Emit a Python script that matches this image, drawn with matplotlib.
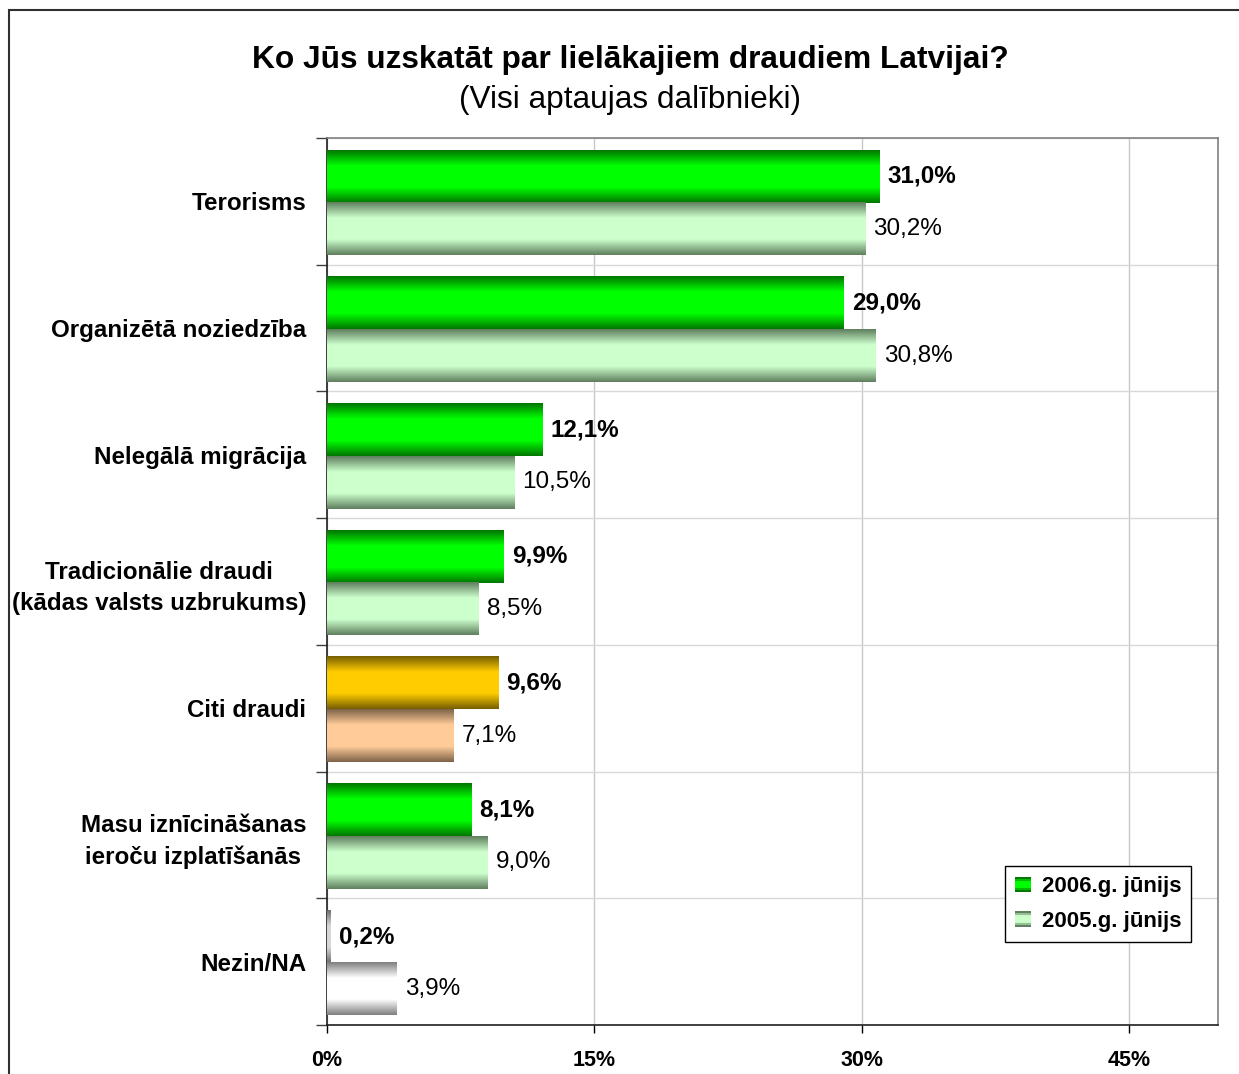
import numpy as np
import matplotlib.pyplot as plt
from matplotlib.patches import Rectangle
from matplotlib.legend_handler import HandlerBase

plt.rcParams['font.family'] = ['Liberation Sans', 'DejaVu Sans']

# data
categories = ['Terorisms', 'Organizētā noziedzība', 'Nelegālā migrācija',
              'Tradicionālie draudi\n(kādas valsts uzbrukums)', 'Citi draudi',
              'Masu iznīcināšanas\nieroču izplatīšanās', 'Nezin/NA']
pct_2006 = [31.0, 29.0, 12.1, 9.9, 9.6, 8.1, 0.2]
pct_2005 = [30.2, 30.8, 10.5, 8.5, 7.1, 9.0, 3.9]
series = ['2006.g. jūnijs', '2005.g. jūnijs']
xticks = [0, 15, 30, 45]
kinds = ['green', 'green', 'green', 'green', 'gold', 'green', 'gray']

# (edge colour, middle colour) for 2006 and 2005 bars
shades = {
    'green': (((0, 120, 0), (0, 255, 0)), ((96, 128, 96), (204, 255, 204))),
    'gold': (((120, 96, 0), (255, 204, 0)), ((128, 100, 75), (255, 204, 153))),
    'gray': (((110, 110, 110), (215, 215, 215)), ((128, 128, 128), (255, 255, 255))),
}


def gradient(edge, mid, n=64):
    t = np.linspace(0, 1, n)
    w = np.clip((1 - np.abs(2 * t - 1)) * 1.7, 0, 1)
    c = np.array(edge)[None, :] * (1 - w[:, None]) + np.array(mid)[None, :] * w[:, None]
    return (c / 255)[:, None, :]


def gbar(ax, y0, y1, val, edge, mid):
    ax.imshow(gradient(edge, mid), extent=(0, val, y1, y0), aspect='auto',
              interpolation='bilinear', zorder=3)


def fmt(v):
    return '{:.1f}%'.format(v).replace('.', ',')


fig = plt.figure(figsize=(12.39, 10.74), dpi=100)
ax = fig.add_axes([327 / 1239, 1 - 1025 / 1074, 891 / 1239, 887 / 1074])

for i in range(len(categories)):
    (e1, m1), (e2, m2) = shades[kinds[i]]
    top, mid, bot = i + 0.095, i + 0.51, i + 0.925
    gbar(ax, top, mid, pct_2006[i], e1, m1)
    gbar(ax, mid, bot, pct_2005[i], e2, m2)
    ax.annotate(fmt(pct_2006[i]), (pct_2006[i], (top + mid) / 2), xytext=(6, 0),
                textcoords='offset points', va='center', ha='left',
                fontsize=17.5, fontweight='bold')
    ax.annotate(fmt(pct_2005[i]), (pct_2005[i], (mid + bot) / 2), xytext=(6, 0),
                textcoords='offset points', va='center', ha='left', fontsize=17.5)

ax.set_xlim(0, 50)
ax.set_ylim(len(categories), 0)

ax.set_xticks(xticks)
ax.set_xticklabels(['{}%'.format(x) for x in xticks], fontsize=15.5, fontweight='bold')
ax.tick_params(axis='x', length=6, width=1, pad=12, color='black')

ax.set_yticks(np.arange(len(categories)) + 0.5)
ax.set_yticklabels(categories, fontsize=17.4, fontweight='bold',
                   multialignment='center', linespacing=1.45)
ax.set_yticks(np.arange(len(categories) + 1), minor=True)
ax.tick_params(axis='y', which='major', length=0, pad=15)
ax.tick_params(axis='y', which='minor', length=8, width=1, color='#404040')

ax.grid(axis='x', which='major', color='#c8c8c8', linewidth=1, zorder=0)
ax.grid(axis='y', which='minor', color='#d8d8d8', linewidth=1, zorder=0)
ax.set_axisbelow(True)

for s in ['top', 'right']:
    ax.spines[s].set_color('#808080')
    ax.spines[s].set_linewidth(1.2)
for s in ['left', 'bottom']:
    ax.spines[s].set_color('#202020')
    ax.spines[s].set_linewidth(1.2)


class StripeHandler(HandlerBase):
    def __init__(self, edge, mid):
        super().__init__()
        self.edge, self.mid = edge, mid

    def create_artists(self, legend, orig_handle, xdescent, ydescent, width,
                       height, fontsize, trans):
        cols = gradient(self.edge, self.mid, n=8)[:, 0, :]
        arts = []
        n = len(cols)
        for k, c in enumerate(cols):
            arts.append(Rectangle((-xdescent, -ydescent + height * (n - 1 - k) / n),
                                  width, height / n, facecolor=c, edgecolor='none',
                                  transform=trans))
        return arts


h1 = Rectangle((0, 0), 1, 1)
h2 = Rectangle((0, 0), 1, 1)
g = shades['green']
leg = ax.legend([h1, h2], series, loc='upper left', bbox_to_anchor=(0.761, 0.179),
                borderaxespad=0, fancybox=False, framealpha=1, edgecolor='black',
                prop={'size': 16, 'weight': 'bold'}, handlelength=0.7,
                handleheight=0.7, handletextpad=0.5, labelspacing=0.6,
                borderpad=0.45,
                handler_map={h1: StripeHandler(*g[0]), h2: StripeHandler(*g[1])})
leg.get_frame().set_linewidth(1)

fig.text(630 / 1239, 1 - 60 / 1074, 'Ko Jūs uzskatāt par lielākajiem draudiem Latvijai?',
         ha='center', va='center', fontsize=22.8, fontweight='bold')
fig.text(630 / 1239, 1 - 100 / 1074, '(Visi aptaujas dalībnieki)',
         ha='center', va='center', fontsize=22.8)

# outer chart border, open to the right and bottom like the reference crop
fig.patches.append(Rectangle((9 / 1239, -0.2), 1.2, 1.2 - 10 / 1074,
                             transform=fig.transFigure, fill=False,
                             edgecolor='#303030', linewidth=1.5))

fig.savefig('out.png', dpi=100)
